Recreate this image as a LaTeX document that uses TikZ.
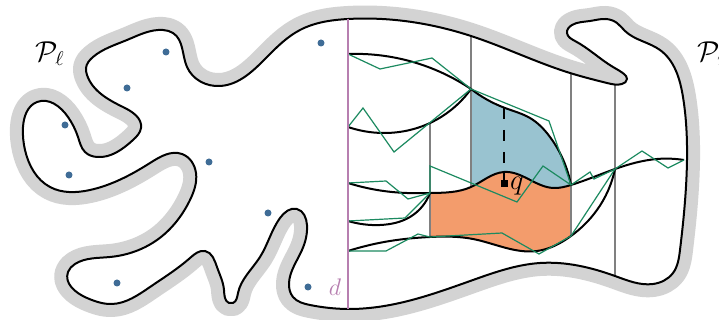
\documentclass[tikz,border=0pt]{standalone}
\usetikzlibrary{hobby}

\definecolor{bandgray}{HTML}{D3D3D3}
\definecolor{sitedot}{HTML}{3F6C96}
\definecolor{splitpink}{HTML}{B77FB0}
\definecolor{slabblue}{HTML}{99C3D0}
\definecolor{slaborange}{HTML}{F39C6C}
\definecolor{chaingreen}{HTML}{1C8A60}

\def\outline{(348,19) .. (471,36) .. (570,73) .. (607,83) .. (622,84) .. (627,79) .. (624,74) .. (613,67) .. (575,41) .. (567,33) .. (572,25)
  .. (590,21) .. (606,19) .. (617,23) .. (625,31) .. (660,50) .. (683,97) .. (687,160) .. (680,250) .. (673,273) .. (653,284) .. (615,276)
  .. (540,263) .. (473,280) .. (390,305) .. (348,309) .. (310,305) .. (293,297) .. (289,283) .. (302,250)
  .. (307,225) .. (297,209) .. (280,218) .. (260,257) .. (238,293) .. (233,303) .. (229,303) .. (224,290) .. (217,267) .. (205,251)
  .. (190,258) .. (150,287) .. (112,304) .. (87,298) .. (68,272) .. (75,264) .. (110,257) .. (157,240)
  .. (190,200) .. (196,173) .. (182,154) .. (150,163) .. (90,190) .. (50,187) .. (25,150) .. (23,127)
  .. (37,102) .. (68,117) .. (78,137) .. (85,152) .. (97,157) .. (133,140) .. (141,128) .. (123,107) .. (87,75)
  .. (86,68) .. (93,57) .. (127,40) .. (163,30) .. (173,33) .. (187,67) .. (220,86) .. (267,57) .. (300,30)}
\def\curveTop{(348,54) .. (413,62) .. (471,89)}
\def\curveLeft{(348,127) .. (383,133) .. (430,123) .. (471,89)}
\def\curveBlue{(471,89) .. (505,108) .. (530,118) .. (550,137) .. (571,185)}
\def\curveMid{(348,183) .. (407,193) .. (430,193) .. (471,187) .. (504,172) .. (553,188) .. (571,185) .. (615,169) .. (657,159) .. (684,160)}
\def\curveShort{(348,221) .. (380,225) .. (410,217) .. (430,193)}
\def\curveLow{(348,251) .. (390,241) .. (430,237) .. (473,239) .. (537,251) .. (571,236) .. (597,210) .. (615,169)}

\begin{document}
\begin{tikzpicture}[
  x=0.5pt,
  y=-0.5pt,
  use Hobby shortcut,
  site/.style={circle, fill=sitedot, inner sep=0pt, minimum size=3.5pt},
  wall/.style={draw=black!50, line width=0.75pt},
  bound/.style={draw=black, line width=1pt},
  chain/.style={draw=chaingreen, line width=0.6pt, line join=miter},
  label text/.style={font=\large, inner sep=0pt}
]
\useasboundingbox (0,0) rectangle (719,320);

% Band and polygon
\draw[bandgray, line width=13pt, line join=round, closed=true] \outline;
\fill[white, closed=true] \outline;

% Slabs
\begin{scope}
  \clip (430,0) rectangle (571,320);
  \clip \curveMid -- (719,320) -- (348,320) -- cycle;
  \fill[slaborange] \curveLow -- (719,0) -- (348,0) -- cycle;
\end{scope}
\begin{scope}
  \clip (471,0) rectangle (571,320);
  \clip \curveMid -- (719,0) -- (348,0) -- cycle;
  \fill[slabblue] \curveBlue -- (571,320) -- (471,320) -- cycle;
\end{scope}

% Walls
\coordinate (wa) at (430,123);
\coordinate (wb) at (430,237);
\coordinate (wc) at (471,36);
\coordinate (wd) at (471,187);
\coordinate (we) at (571,73);
\coordinate (wf) at (571,236);
\coordinate (wg) at (615,84);
\coordinate (wh) at (615,276);
\draw[wall] (wa) -- (wb);
\draw[wall] (wc) -- (wd);
\draw[wall] (we) -- (wf);
\draw[wall] (wg) -- (wh);

% Black curves
\draw[bound] \curveTop;
\draw[bound] \curveLeft;
\draw[bound] \curveBlue;
\draw[bound] \curveMid;
\draw[bound] \curveShort;
\draw[bound] \curveLow;

% Green chains
\draw[chain] (348,54) -- (380,69) -- (432,58) -- (471,89) -- (549,121) -- (571,185);
\draw[chain] (348,127) -- (363,108) -- (394,152) -- (471,89);
\draw[chain] (348,183) -- (386,181) -- (408,199) -- (430,193);
\draw[chain] (348,221) -- (405,218) -- (430,193);
\draw[chain] (348,251) -- (386,251) -- (418,234) -- (430,237) -- (502,233) -- (539,254) -- (571,236) -- (615,169);
\draw[chain] (430,193) -- (430,166) -- (517,202) -- (543,166) -- (571,185) -- (590,172) -- (594,179) -- (615,169) -- (642,151) -- (668,168) -- (684,160);

% Outline on top
\draw[bound, closed=true] \outline;

% Splitting line
\coordinate (dtop) at (348,19);
\coordinate (dbot) at (348,309);
\draw[splitpink, line width=1pt] (dtop) -- (dbot);

% Sites
\foreach \i/\px/\py in {1/321/43, 2/166/52, 3/127/88, 4/65/125, 5/69/175, 6/209/162, 7/268/213, 8/117/283, 9/308/287}
  \node[site] (site\i) at (\px,\py) {};

% Query point
\node[fill=black, inner sep=0pt, minimum size=3.5pt] (query) at (504,184) {};
\coordinate (qtop) at (504,108);
\coordinate (qmid) at (504,172);
\draw[black, line width=0.6pt, dash pattern=on 5.5pt off 5.5pt] (qtop) -- (qmid);
\draw[black, line width=0.6pt] (qmid) -- (query);

% Labels
\node[label text, font=\Large] (qlabel) at (517,186) {$q$};
\node[label text, text=splitpink] (dlabel) at (335,287) {$d$};
\node[label text, font=\Large] (pleft) at (50,54) {$\mathcal{P}_\ell$};
\node[label text, font=\Large, anchor=west] (pright) at (697,54) {$\mathcal{P}_r$};

\end{tikzpicture}
\end{document}
